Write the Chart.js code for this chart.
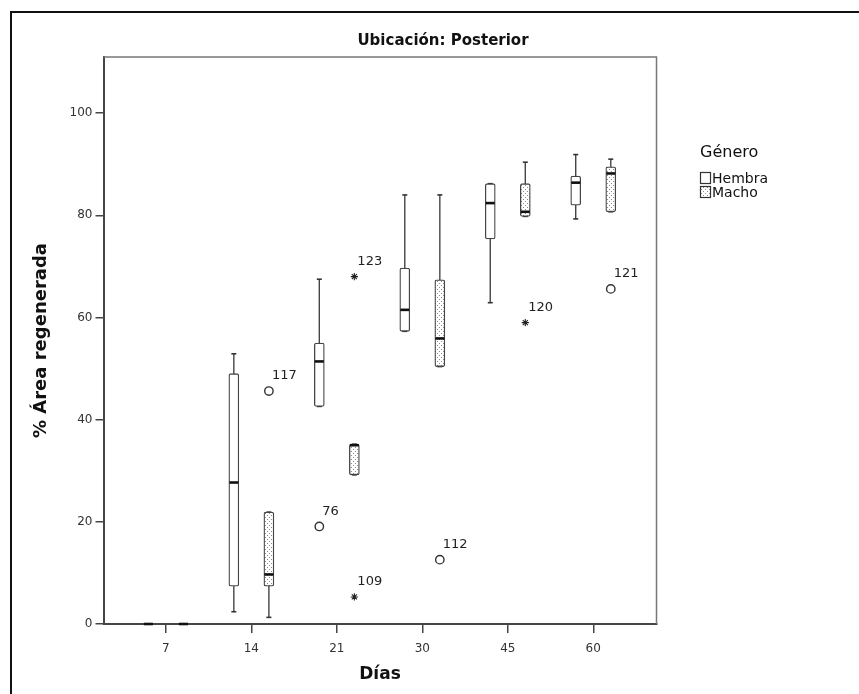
<!DOCTYPE html>
<html>
<head>
<meta charset="utf-8">
<script src="https://cdn.jsdelivr.net/npm/chart.js@4.4.1/dist/chart.umd.min.js"></script>
<style>
  html, body { margin: 0; padding: 0; background: #fff; overflow: hidden; }
  #wrap { position: relative; width: 859px; height: 694px; }
  #frame { position: absolute; left: 10px; top: 11px; right: -10px; bottom: -10px;
           border-left: 2px solid #111; border-top: 2px solid #111; pointer-events: none; }
</style>
</head>
<body>
<div id="wrap">
  <canvas id="chart" width="859" height="694"></canvas>
  <div id="frame"></div>
</div>
<script>
// Data
const days = ['7', '14', '21', '30', '45', '60'];
const yTicks = [0, 20, 40, 60, 80, 100];

const hembraMin = [0, 2.4, 42.6, 57.3, 62.9, 79.3];
const hembraQ1  = [0, 7.4, 42.6, 57.3, 75.4, 82.0];
const hembraMed = [0, 27.7, 51.4, 61.5, 82.4, 86.4];
const hembraQ3  = [0, 49.0, 55.0, 69.7, 86.2, 87.7];
const hembraMax = [0, 52.9, 67.5, 84.0, 86.2, 91.9];

const machoMin = [0, 1.3, 29.2, 50.4, 79.8, 80.7];
const machoQ1  = [0, 7.4, 29.2, 50.4, 79.8, 80.7];
const machoMed = [0, 9.7, 35.0, 55.9, 80.7, 88.2];
const machoQ3  = [0, 21.9, 35.2, 67.4, 86.2, 89.5];
const machoMax = [0, 21.9, 35.2, 84.0, 90.4, 91.0];

// outliers: day index, group, value, case id
const outDay    = [1, 2, 2, 2, 3, 4, 5];
const outGroup  = ['M', 'H', 'M', 'M', 'M', 'M', 'M'];
const outValue  = [45.6, 19.1, 68.0, 5.3, 12.6, 59.0, 65.6];
const outId     = ['117', '76', '123', '109', '112', '120', '121'];
const outExtreme = [false, false, true, true, false, true, false];

const GROUP_SHIFT = 0.205;
const xPos = (day, g) => day + (g === 'H' ? -GROUP_SHIFT : GROUP_SHIFT);

// dotted fill for "Macho"
function makePattern() {
    const c = document.createElement('canvas');
    c.width = 4; c.height = 4;
    const p = c.getContext('2d');
    p.fillStyle = '#fff';
    p.fillRect(0, 0, 4, 4);
    p.fillStyle = '#8c8c8c';
    p.fillRect(1, 1, 1, 1);
    p.fillRect(3, 3, 1, 1);
    return p.createPattern(c, 'repeat');
}
const dotted = makePattern();

const boxData = (q1, q3, g) => q1.map((v, i) => ({ x: xPos(i, g), y: [v, q3[i]] }));
const whiskerData = (lo, hi, g) => lo.flatMap((v, i) => [
    { x: xPos(i, g), y: v }, { x: xPos(i, g), y: hi[i] }, { x: xPos(i, g), y: null }
]);
const capData = (lo, hi, g) => lo.flatMap((v, i) => [{ x: xPos(i, g), y: v }, { x: xPos(i, g), y: hi[i] }]);
const medData = (med, g) => med.map((v, i) => ({ x: xPos(i, g), y: v }));

const outIdx = outDay.map((_, i) => i);
const circleData = outIdx.filter(i => !outExtreme[i]).map(i => ({ x: xPos(outDay[i], outGroup[i]), y: outValue[i] }));
const starData = outIdx.filter(i => outExtreme[i]).map(i => ({ x: xPos(outDay[i], outGroup[i]), y: outValue[i] }));

const LINE = '#454545';

const decorations = {
    id: 'decorations',
    beforeDatasetsDraw(chart) {
        const { ctx, chartArea: a } = chart;
        ctx.save();
        ctx.strokeStyle = '#777';
        ctx.lineWidth = 1.5;
        ctx.beginPath();
        ctx.moveTo(a.left, a.top);
        ctx.lineTo(a.right, a.top);
        ctx.lineTo(a.right, a.bottom);
        ctx.stroke();
        ctx.restore();
    },
    afterDraw(chart) {
        const { ctx, scales: { x, y } } = chart;
        ctx.save();
        // title
        ctx.fillStyle = '#111';
        ctx.font = 'bold 15px "DejaVu Sans"';
        ctx.textAlign = 'center';
        ctx.textBaseline = 'middle';
        ctx.fillText('Ubicación: Posterior', 443, 41);

        // outlier case labels
        ctx.font = '13px "DejaVu Sans"';
        ctx.textAlign = 'left';
        ctx.fillStyle = '#222';
        outIdx.forEach(i => {
            const px = x.getPixelForValue(xPos(outDay[i], outGroup[i]));
            const py = y.getPixelForValue(outValue[i]);
            ctx.fillText(outId[i], px + 3, py - 15);
        });

        // legend
        ctx.font = '16px "DejaVu Sans"';
        ctx.fillStyle = '#111';
        ctx.fillText('Género', 700, 153);
        ctx.font = '14px "DejaVu Sans"';
        const rows = [['Hembra', '#fff', 172], ['Macho', dotted, 186]];
        rows.forEach(([label, fill, top]) => {
            ctx.fillStyle = fill;
            ctx.fillRect(700.5, top + 0.5, 10, 11);
            ctx.strokeStyle = '#333';
            ctx.lineWidth = 1.2;
            ctx.strokeRect(700.5, top + 0.5, 10, 11);
            ctx.fillStyle = '#111';
            ctx.fillText(label, 712, top + 7);
        });
        ctx.restore();
    }
};

new Chart(document.getElementById('chart'), {
    type: 'bar',
    data: {
        datasets: [
            { type: 'line', data: whiskerData(hembraMin, hembraMax, 'H'), borderColor: LINE, borderWidth: 1.4,
              pointRadius: 0, spanGaps: false, order: 5 },
            { type: 'line', data: whiskerData(machoMin, machoMax, 'M'), borderColor: LINE, borderWidth: 1.4,
              pointRadius: 0, spanGaps: false, order: 5 },
            { type: 'line', data: capData(hembraMin, hembraMax, 'H').concat(capData(machoMin, machoMax, 'M')),
              showLine: false, pointStyle: 'line', pointRadius: 2.5, pointBorderWidth: 1.6,
              pointBorderColor: '#333', order: 4, clip: false },
            { data: boxData(hembraQ1, hembraQ3, 'H'), backgroundColor: '#fff', borderColor: LINE,
              borderWidth: 1.3, borderSkipped: false, borderRadius: 2, barThickness: 10, grouped: false, order: 2 },
            { data: boxData(machoQ1, machoQ3, 'M'), backgroundColor: dotted, borderColor: LINE,
              borderWidth: 1.3, borderSkipped: false, borderRadius: 2, barThickness: 10, grouped: false, order: 2 },
            { type: 'line', data: medData(hembraMed, 'H').concat(medData(machoMed, 'M')),
              showLine: false, pointStyle: 'line', pointRadius: 4.5, pointBorderWidth: 2.6,
              pointBorderColor: '#111', order: 1, clip: false },
            { type: 'line', data: circleData, showLine: false, pointStyle: 'circle', pointRadius: 4.2,
              pointBackgroundColor: '#fff', pointBorderColor: '#333', pointBorderWidth: 1.4, order: 0 },
            { type: 'line', data: starData, showLine: false, pointStyle: 'star', pointRadius: 3.6,
              pointBorderColor: '#222', pointBorderWidth: 1.1, order: 0 }
        ]
    },
    options: {
        responsive: false,
        animation: false,
        devicePixelRatio: 1,
        layout: { padding: { left: 20, top: 57, right: 202.5, bottom: 0 } },
        plugins: {
            legend: { display: false },
            tooltip: { enabled: false },
            title: { display: false }
        },
        scales: {
            x: {
                type: 'linear',
                min: -0.73,
                max: 5.74,
                offset: false,
                grid: { display: true, drawOnChartArea: false, offset: false, tickLength: 9, color: LINE, lineWidth: 1.5 },
                border: { color: LINE, width: 2 },
                afterBuildTicks: s => { s.ticks = days.map((_, i) => ({ value: i })); },
                afterFit: s => { s.height = 70; },
                ticks: {
                    color: '#333',
                    padding: 9,
                    font: { family: 'DejaVu Sans', size: 12 },
                    callback: v => days[v]
                },
                title: {
                    display: true,
                    text: 'Días',
                    color: '#111',
                    font: { family: 'DejaVu Sans', size: 17, weight: 'bold' },
                    padding: { top: 0, bottom: 9 }
                }
            },
            y: {
                min: 0,
                max: 111,
                grid: { display: true, drawOnChartArea: false, tickLength: 8, color: LINE, lineWidth: 1.5 },
                border: { color: LINE, width: 2 },
                afterBuildTicks: s => { s.ticks = yTicks.map(v => ({ value: v })); },
                afterFit: s => { s.width = 83.5; },
                ticks: {
                    color: '#333',
                    padding: 3,
                    font: { family: 'DejaVu Sans', size: 12 }
                },
                title: {
                    display: true,
                    text: '% Área regenerada',
                    color: '#111',
                    font: { family: 'DejaVu Sans', size: 18, weight: 'bold' },
                    padding: { top: 11, bottom: 0 }
                }
            }
        }
    },
    plugins: [decorations]
});
</script>
</body>
</html>
